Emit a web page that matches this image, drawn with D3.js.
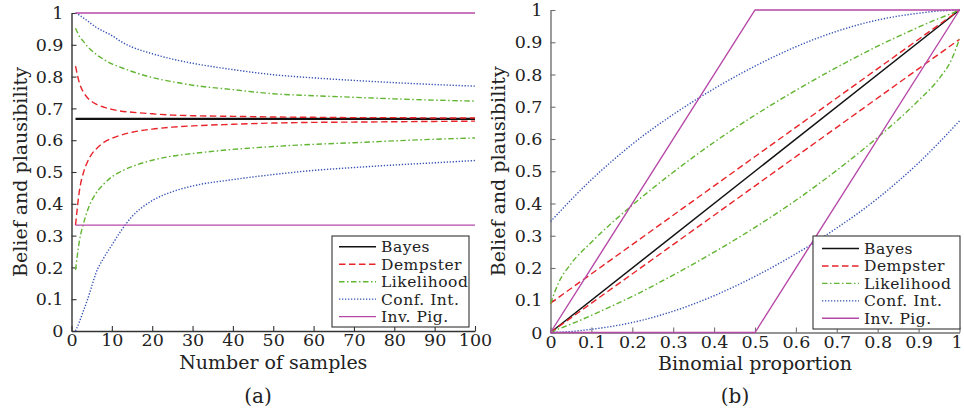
<!DOCTYPE html>
<html>
<head>
<meta charset="utf-8">
<script src="https://cdn.jsdelivr.net/npm/d3@7"></script>
<style>
  html, body { margin: 0; padding: 0; background: #fff; }
  svg { display: block; font-family: "DejaVu Serif", serif; }
</style>
</head>
<body>
<svg id="chart" width="964" height="416"></svg>
<script>
// ---------------- Data: panel (a) ----------------
const seriesNames = ["Bayes", "Dempster", "Likelihood", "Conf. Int.", "Inv. Pig."];

const nSamples = [1, 2, 3, 4, 5, 6, 8, 10, 12, 15, 20, 25, 30, 40, 50, 60, 70, 80, 90, 100];
const bayesN = [1, 100];
const bayesA = [0.667, 0.667];
const dempsterUpperA = [0.833, 0.778, 0.750, 0.733, 0.722, 0.714, 0.704, 0.697, 0.692, 0.688, 0.683, 0.679, 0.677, 0.675, 0.673, 0.672, 0.671, 0.671, 0.670, 0.670];
const dempsterLowerA = [0.333, 0.444, 0.500, 0.533, 0.556, 0.571, 0.593, 0.606, 0.615, 0.625, 0.635, 0.641, 0.645, 0.650, 0.654, 0.656, 0.657, 0.658, 0.659, 0.660];
const likelihoodUpperA = [0.952, 0.926, 0.910, 0.894, 0.882, 0.871, 0.854, 0.840, 0.830, 0.816, 0.797, 0.784, 0.773, 0.759, 0.746, 0.740, 0.735, 0.730, 0.726, 0.723];
const likelihoodLowerA = [0.192, 0.286, 0.339, 0.380, 0.410, 0.432, 0.462, 0.485, 0.500, 0.517, 0.537, 0.550, 0.558, 0.571, 0.580, 0.587, 0.592, 0.598, 0.603, 0.607];
const confUpperA = [1.000, 0.993, 0.984, 0.975, 0.965, 0.956, 0.942, 0.929, 0.912, 0.893, 0.872, 0.855, 0.842, 0.822, 0.806, 0.796, 0.788, 0.781, 0.775, 0.770];
const confLowerA = [0.000, 0.030, 0.065, 0.100, 0.140, 0.180, 0.230, 0.270, 0.310, 0.360, 0.410, 0.438, 0.456, 0.476, 0.492, 0.505, 0.514, 0.522, 0.529, 0.536];
const invPigN = [1, 100];
const invPigUpperA = [1, 1];
const invPigLowerA = [0.333, 0.333];

// ---------------- Data: panel (b) ----------------
const proportion = [0, 0.02, 0.05, 0.1, 0.15, 0.2, 0.3, 0.4, 0.5, 0.6, 0.7, 0.8, 0.85, 0.9, 0.95, 0.98, 1];
const bayesP = [0, 1];
const bayesB = [0, 1];
const dempsterP = [0, 1];
const dempsterUpperB = [0.091, 1];
const dempsterLowerB = [0, 0.909];
const likelihoodUpperB = [0.090, 0.155, 0.213, 0.280, 0.340, 0.395, 0.497, 0.590, 0.674, 0.751, 0.822, 0.888, 0.918, 0.947, 0.974, 0.989, 1.000];
const likelihoodLowerB = [0.000, 0.011, 0.026, 0.053, 0.082, 0.112, 0.178, 0.249, 0.326, 0.410, 0.503, 0.605, 0.660, 0.720, 0.787, 0.845, 0.910];
const confUpperB = [0.344, 0.371, 0.411, 0.474, 0.531, 0.584, 0.676, 0.756, 0.826, 0.886, 0.934, 0.969, 0.981, 0.990, 0.997, 0.999, 1.000];
const confLowerB = [0.000, 0.001, 0.003, 0.010, 0.019, 0.031, 0.066, 0.114, 0.174, 0.244, 0.324, 0.416, 0.469, 0.526, 0.589, 0.629, 0.656];
const invPigP = [0, 0.5, 1];
const invPigUpperB = [0, 1, 1];
const invPigLowerB = [0, 0, 1];

// ---------------- Tick labels ----------------
const xTicksA = [0, 10, 20, 30, 40, 50, 60, 70, 80, 90, 100];
const xTickLabelsA = ["0", "10", "20", "30", "40", "50", "60", "70", "80", "90", "100"];
const unitTicks = [0, 0.1, 0.2, 0.3, 0.4, 0.5, 0.6, 0.7, 0.8, 0.9, 1];
const unitTickLabels = ["0", "0.1", "0.2", "0.3", "0.4", "0.5", "0.6", "0.7", "0.8", "0.9", "1"];

// ---------------- Styles ----------------
const styles = {
  "Bayes":      { color: "#111111", dash: null },
  "Dempster":   { color: "#e8242a", dash: "6.5,3.5" },
  "Likelihood": { color: "#62b532", dash: "5.5,2.5,1.5,2.5" },
  "Conf. Int.": { color: "#3552b4", dash: "1.3,1.7" },
  "Inv. Pig.":  { color: "#b648a8", dash: null }
};

const zip = (xs, ys) => xs.map((x, i) => [x, ys[i]]);

const svg = d3.select("#chart");

function drawPanel(cfg) {
  const { x, y, axisColor, series, xTicks, xTickLabels, xLabel, xLabelY, yLabelX, caption, captionX, legendBox, bayesWidth, lastTickShift } = cfg;
  const g = svg.append("g");

  // axes
  const xAxis = d3.axisBottom(x).tickValues(xTicks)
    .tickFormat((d, i) => xTickLabels[i]).tickSizeInner(-5).tickSizeOuter(0).tickPadding(3);
  const yAxis = d3.axisLeft(y).tickValues(unitTicks)
    .tickFormat((d, i) => unitTickLabels[i]).tickSizeInner(-5).tickSizeOuter(0).tickPadding(8);

  const gx = g.append("g").attr("transform", `translate(0,${y(0)})`).call(xAxis);
  const gy = g.append("g").attr("transform", `translate(${x.range()[0]},0)`).call(yAxis);
  [gx, gy].forEach(a => {
    a.select(".domain").attr("stroke", axisColor).attr("stroke-width", 1.4);
    a.selectAll(".tick line").attr("stroke", axisColor).attr("stroke-width", 1.1);
    a.selectAll(".tick text").attr("fill", "#222").style("font-size", "17.5px")
      .style("font-family", "'DejaVu Serif', serif");
  });
  if (lastTickShift) {
    gx.selectAll(".tick text").filter((d, i, n) => i === n.length - 1)
      .attr("dx", lastTickShift);
  }

  // series
  series.forEach(s => {
    const st = styles[s.name];
    const line = d3.line().x(d => x(d[0])).y(d => y(d[1]))
      .curve(s.smooth ? d3.curveMonotoneX : d3.curveLinear);
    g.append("path").datum(s.points)
      .attr("fill", "none")
      .attr("stroke", st.color)
      .attr("stroke-width", s.name === "Bayes" ? bayesWidth : 1.4)
      .attr("stroke-dasharray", st.dash)
      .attr("d", line);
  });

  // axis labels
  g.append("text").attr("x", (x.range()[0] + x.range()[1]) / 2).attr("y", xLabelY)
    .attr("text-anchor", "middle").style("font-size", "19px").attr("fill", "#222").text(xLabel);
  g.append("text")
    .attr("transform", `translate(${yLabelX},${(y.range()[0] + y.range()[1]) / 2}) rotate(-90)`)
    .attr("text-anchor", "middle").style("font-size", "19px").attr("fill", "#222")
    .text("Belief and plausibility");
  g.append("text").attr("x", captionX).attr("y", 403)
    .attr("text-anchor", "middle").style("font-size", "20px").attr("fill", "#222").text(caption);

  // legend
  const lg = g.append("g");
  lg.append("rect").attr("x", legendBox.x).attr("y", legendBox.y)
    .attr("width", legendBox.w).attr("height", legendBox.h)
    .attr("fill", "#fff").attr("stroke", "#333").attr("stroke-width", 1.1);
  seriesNames.forEach((name, i) => {
    const ly = legendBox.row0 + i * 17.45;
    const st = styles[name];
    lg.append("line").attr("x1", legendBox.lineX).attr("x2", legendBox.lineX + 37)
      .attr("y1", ly).attr("y2", ly)
      .attr("stroke", st.color).attr("stroke-width", name === "Bayes" ? 1.5 : 1.4)
      .attr("stroke-dasharray", st.dash);
    lg.append("text").attr("x", legendBox.lineX + 42).attr("y", ly).attr("dy", "0.35em")
      .style("font-size", "15.5px").style("letter-spacing", "0.5px")
      .attr("fill", "#222").text(name);
  });
}

// Panel (a)
drawPanel({
  x: d3.scaleLinear([0, 100], [71.5, 475]),
  y: d3.scaleLinear([0, 1], [331, 13]),
  axisColor: "#333",
  xTicks: xTicksA, xTickLabels: xTickLabelsA,
  xLabel: "Number of samples", xLabelY: 369, yLabelX: 26.5,
  caption: "(a)", captionX: 258,
  bayesWidth: 2.2,
  legendBox: { x: 332, y: 236, w: 137, h: 91, row0: 246.8, lineX: 339 },
  series: [
    { name: "Bayes", points: zip(bayesN, bayesA) },
    { name: "Dempster", points: zip(nSamples, dempsterUpperA), smooth: true },
    { name: "Dempster", points: zip(nSamples, dempsterLowerA), smooth: true },
    { name: "Likelihood", points: zip(nSamples, likelihoodUpperA), smooth: true },
    { name: "Likelihood", points: zip(nSamples, likelihoodLowerA), smooth: true },
    { name: "Conf. Int.", points: zip(nSamples, confUpperA), smooth: true },
    { name: "Conf. Int.", points: zip(nSamples, confLowerA), smooth: true },
    { name: "Inv. Pig.", points: zip(invPigN, invPigUpperA) },
    { name: "Inv. Pig.", points: zip(invPigN, invPigLowerA) }
  ]
});

// Panel (b)
drawPanel({
  x: d3.scaleLinear([0, 1], [550.5, 959.5]),
  y: d3.scaleLinear([0, 1], [332.5, 10]),
  axisColor: "#707070",
  xTicks: unitTicks, xTickLabels: unitTickLabels,
  xLabel: "Binomial proportion", xLabelY: 370, yLabelX: 505,
  caption: "(b)", captionX: 735,
  bayesWidth: 1.5,
  lastTickShift: -3,
  legendBox: { x: 813, y: 236, w: 147, h: 93, row0: 248.5, lineX: 822 },
  series: [
    { name: "Bayes", points: zip(bayesP, bayesB) },
    { name: "Dempster", points: zip(dempsterP, dempsterUpperB) },
    { name: "Dempster", points: zip(dempsterP, dempsterLowerB) },
    { name: "Likelihood", points: zip(proportion, likelihoodUpperB), smooth: true },
    { name: "Likelihood", points: zip(proportion, likelihoodLowerB), smooth: true },
    { name: "Conf. Int.", points: zip(proportion, confUpperB), smooth: true },
    { name: "Conf. Int.", points: zip(proportion, confLowerB), smooth: true },
    { name: "Inv. Pig.", points: zip(invPigP, invPigUpperB) },
    { name: "Inv. Pig.", points: zip(invPigP, invPigLowerB) }
  ]
});
</script>
</body>
</html>
